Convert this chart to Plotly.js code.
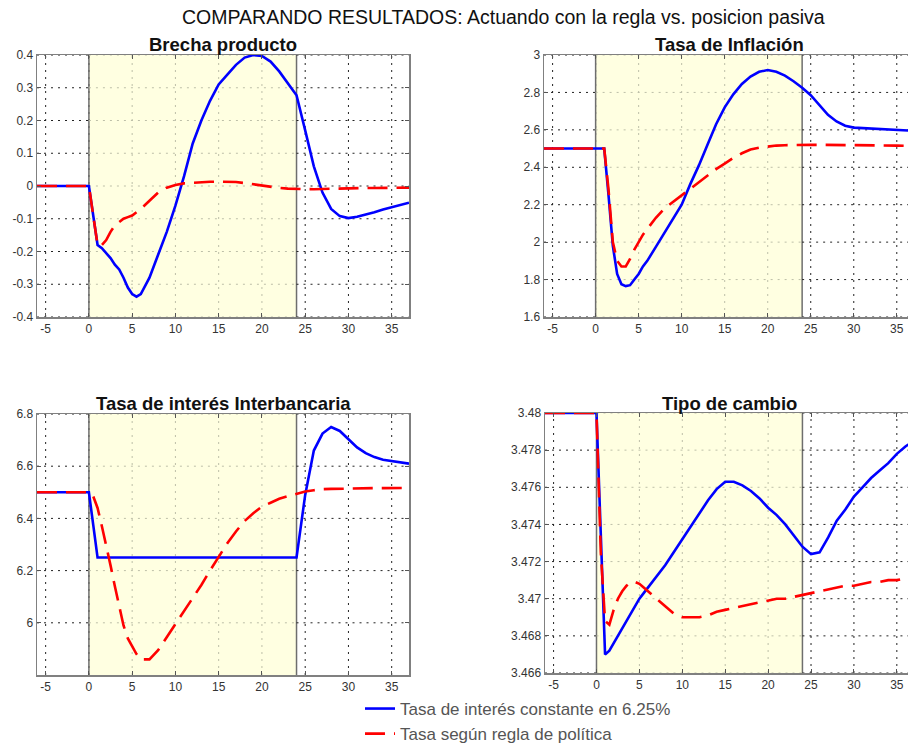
<!DOCTYPE html>
<html><head><meta charset="utf-8">
<script src="https://cdn.plot.ly/plotly-3.0.1.min.js"></script>
<style>html,body{margin:0;padding:0;overflow:hidden;background:#fff}#chart{width:916px;height:749px}</style>
</head><body><div id="chart"></div>
<script>
// Periodos (trimestres)
const periodos = [-6,-5,-4,-3,-2,-1,0,0.5,1,1.5,2,2.5,3,3.5,4,4.5,5,5.5,6,7,8,9,10,11,12,13,14,15,16,17,18,19,20,21,22,23,24,25,26,27,28,29,30,31,32,33,34,35,36,37];

// Brecha producto
const brechaConstante = [0,0,0,0,0,0,0,
  -0.09,-0.18,-0.19,-0.205,-0.22,-0.24,-0.255,-0.28,-0.31,-0.33,-0.338,-0.33,
  -0.28,-0.21,-0.14,-0.06,0.03,0.13,0.2,0.26,0.31,0.34,0.37,0.392,0.4,0.397,0.38,0.35,0.315,0.277,0.17,0.06,-0.02,-0.07,-0.092,-0.098,-0.094,-0.088,-0.08,-0.072,-0.065,-0.058,-0.051];
const brechaRegla = [0,0,0,0,0,0,0,
  -0.09,-0.18,-0.18,-0.165,-0.14,-0.12,-0.11,-0.1,-0.095,-0.09,-0.08,-0.07,
  -0.045,-0.02,-0.005,0.003,0.008,0.01,0.012,0.013,0.013,0.013,0.012,0.009,0.005,0.002,-0.002,-0.006,-0.008,-0.009,-0.01,-0.01,-0.009,-0.008,-0.008,-0.007,-0.007,-0.006,-0.006,-0.006,-0.005,-0.005,-0.005];

// Tasa de inflación
const inflacionConstante = [2.5,2.5,2.5,2.5,2.5,2.5,2.5,
  2.5,2.5,2.25,1.98,1.83,1.775,1.765,1.77,1.8,1.83,1.87,1.9,
  1.975,2.05,2.12,2.2,2.31,2.41,2.52,2.63,2.72,2.79,2.845,2.885,2.91,2.92,2.91,2.89,2.86,2.825,2.785,2.735,2.68,2.645,2.622,2.612,2.61,2.608,2.605,2.603,2.6,2.597,2.595];
const inflacionRegla = [2.5,2.5,2.5,2.5,2.5,2.5,2.5,
  2.5,2.5,2.28,2.0,1.9,1.87,1.87,1.91,1.96,2.0,2.04,2.07,
  2.13,2.18,2.215,2.245,2.28,2.32,2.355,2.39,2.42,2.45,2.475,2.495,2.505,2.512,2.516,2.518,2.52,2.52,2.52,2.52,2.52,2.519,2.519,2.518,2.518,2.517,2.517,2.516,2.516,2.515,2.515];

// Tasa de interés interbancaria
const interesConstante = [6.5,6.5,6.5,6.5,6.5,6.5,6.5,
  6.375,6.25,6.25,6.25,6.25,6.25,6.25,6.25,6.25,6.25,6.25,6.25,
  6.25,6.25,6.25,6.25,6.25,6.25,6.25,6.25,6.25,6.25,6.25,6.25,6.25,6.25,6.25,6.25,6.25,6.25,
  6.49,6.66,6.725,6.75,6.735,6.705,6.672,6.65,6.635,6.625,6.62,6.615,6.61];
const interesRegla = [6.5,6.5,6.5,6.5,6.5,6.5,6.5,
  6.485,6.44,6.37,6.3,6.22,6.14,6.06,5.99,5.94,5.91,5.88,5.86,
  5.86,5.895,5.945,5.99,6.04,6.09,6.145,6.2,6.255,6.305,6.35,6.39,6.42,6.445,6.46,6.475,6.485,6.495,6.503,6.508,6.512,6.513,6.514,6.514,6.515,6.515,6.516,6.516,6.517,6.517,6.517];

// Tipo de cambio
const cambioConstante = [3.48,3.48,3.48,3.48,3.48,3.48,3.48,
  3.4735,3.467,3.4672,3.4676,3.468,3.4684,3.4688,3.4692,3.4696,3.47,3.4703,3.4706,
  3.4712,3.4718,3.4725,3.4732,3.4739,3.4746,3.4753,3.4759,3.4763,3.4763,3.4761,3.4758,3.4754,3.4749,3.4745,3.474,3.4734,3.4728,3.4724,3.4725,3.4733,3.4742,3.4748,3.4755,3.476,3.4765,3.4769,3.4773,3.4778,3.4782,3.4785];
const cambioRegla = [3.48,3.48,3.48,3.48,3.48,3.48,3.48,
  3.4725,3.4688,3.4686,3.4694,3.47,3.4704,3.4707,3.4709,3.4709,3.4708,3.4706,3.4704,
  3.47,3.4696,3.4692,3.469,3.469,3.469,3.4691,3.4693,3.4694,3.4695,3.4696,3.4697,3.4698,3.4699,3.47,3.47,3.4701,3.4702,3.4703,3.4704,3.4705,3.4706,3.4707,3.4707,3.4708,3.4709,3.4709,3.471,3.471,3.4711,3.4711];

// Ticks
const ticksX = [-5,0,5,10,15,20,25,30,35];
const etiquetasX = ['-5','0','5','10','15','20','25','30','35'];
const ticksBrecha = [-0.4,-0.3,-0.2,-0.1,0,0.1,0.2,0.3,0.4];
const etiquetasBrecha = ['-0.4','-0.3','-0.2','-0.1','0','0.1','0.2','0.3','0.4'];
const ticksInflacion = [1.6,1.8,2,2.2,2.4,2.6,2.8,3];
const etiquetasInflacion = ['1.6','1.8','2','2.2','2.4','2.6','2.8','3'];
const ticksInteres = [6,6.2,6.4,6.6,6.8];
const etiquetasInteres = ['6','6.2','6.4','6.6','6.8'];
const ticksCambio = [3.466,3.468,3.47,3.472,3.474,3.476,3.478,3.48];
const etiquetasCambio = ['3.466','3.468','3.47','3.472','3.474','3.476','3.478','3.48'];

const nombreConstante = 'Tasa de interés constante en 6.25%';
const nombreRegla = 'Tasa según regla de política';
const titulos = ['Brecha producto','Tasa de Inflación','Tasa de interés Interbancaria','Tipo de cambio'];
const tituloGeneral = 'COMPARANDO RESULTADOS: Actuando con la regla vs. posicion pasiva';
const inicioRegla = 0, finRegla = 24;

const FONT = 'Liberation Sans, Arial, sans-serif';
const W = 916, H = 749;
const px = v => v / W, py = v => 1 - v / H;
const XMIN = -6, XMAX = 37;

const series = [
  [brechaConstante, brechaRegla],
  [inflacionConstante, inflacionRegla],
  [interesConstante, interesRegla],
  [cambioConstante, cambioRegla]
];
const yTicks = [ticksBrecha, ticksInflacion, ticksInteres, ticksCambio];
const traces = [];
series.forEach((par, i) => {
  const s = i === 0 ? '' : String(i + 1);
  traces.push({x: periodos, y: par[0], xaxis: 'x' + s, yaxis: 'y' + s, type: 'scatter', mode: 'lines',
    name: nombreConstante, showlegend: i === 0, legendrank: 1,
    line: {color: '#0000ff', width: 2.6}});
  traces.push({x: periodos, y: par[1], xaxis: 'x' + s, yaxis: 'y' + s, type: 'scatter', mode: 'lines',
    name: nombreRegla, showlegend: i === 0, legendrank: 2,
    line: {color: '#ff0000', width: 2.6, dash: '20px,9px'}});
});

function ejeX(dom, anchor) {
  return {domain: dom, anchor: anchor, range: [XMIN, XMAX], tickvals: ticksX, ticktext: etiquetasX,
    showgrid: false, zeroline: false,
    showline: true, linecolor: '#808080', linewidth: 1.5, mirror: 'ticks', ticks: 'inside', ticklen: 4,
    tickcolor: '#555', tickfont: {family: FONT, size: 12, color: '#333'}, fixedrange: true};
}
function ejeY(dom, anchor, rango, tv, tt) {
  return {domain: dom, anchor: anchor, range: rango, tickvals: tv, ticktext: tt,
    showgrid: false, zeroline: false,
    showline: true, linecolor: '#808080', linewidth: 1.5, mirror: 'ticks', ticks: 'inside', ticklen: 4,
    tickcolor: '#555', tickfont: {family: FONT, size: 12, color: '#333'}, fixedrange: true};
}

const dx1 = [px(37), px(409)], dx2 = [px(544), px(914)], dx4 = [px(545), px(914)];
const dyTop = [py(317), py(55)], dy3 = [py(675), py(414)], dy4 = [py(673), py(413)];

const OSCURO = '#222222', CLARO = '#bdbfa8', DASHG = '2px,5px';
const shapes = [];
['x', 'x2', 'x3', 'x4'].forEach((xr, i) => {
  const yr = i === 0 ? 'y' : 'y' + (i + 1);
  // sombreado del periodo de la regla
  shapes.push({type: 'rect', xref: xr, yref: yr + ' domain', x0: inicioRegla, x1: finRegla, y0: 0, y1: 1,
    fillcolor: '#ffffe1', line: {width: 0}, layer: 'below'});
  // rejilla punteada vertical
  ticksX.forEach(v => {
    const dentro = v > inicioRegla && v < finRegla;
    shapes.push({type: 'line', xref: xr, yref: yr + ' domain', x0: v, x1: v, y0: 0, y1: 1,
      line: {color: dentro ? CLARO : OSCURO, width: 1, dash: DASHG}, layer: 'below'});
  });
  // rejilla punteada horizontal
  yTicks[i].forEach(v => {
    [[XMIN, inicioRegla, OSCURO], [inicioRegla, finRegla, CLARO], [finRegla, XMAX, OSCURO]].forEach(seg => {
      shapes.push({type: 'line', xref: xr, yref: yr, x0: seg[0], x1: seg[1], y0: v, y1: v,
        line: {color: seg[2], width: 1, dash: DASHG}, layer: 'below'});
    });
  });
  // bordes del sombreado
  [inicioRegla, finRegla].forEach(v => shapes.push({type: 'line', xref: xr, yref: yr + ' domain',
    x0: v, x1: v, y0: 0, y1: 1, line: {color: '#6e6e6e', width: 1.5}, layer: 'below'}));
});

const centros = [(37 + 409) / 2, (544 + 914) / 2, (37 + 409) / 2, (545 + 914) / 2];
const alturas = [44, 44, 403, 403];
const annotations = titulos.map((t, i) => ({text: '<b>' + t + '</b>', xref: 'paper', yref: 'paper',
  x: px(centros[i]), y: py(alturas[i]), xanchor: 'center', yanchor: 'middle', showarrow: false,
  font: {family: FONT, size: 18.5, color: '#111'}}));
annotations.push({text: tituloGeneral, xref: 'paper', yref: 'paper', x: px(503), y: py(17),
  xanchor: 'center', yanchor: 'middle', showarrow: false, font: {family: FONT, size: 19.5, color: '#111'}});

const layout = {
  width: W, height: H, margin: {l: 0, r: 0, t: 0, b: 0, autoexpand: false},
  paper_bgcolor: '#fff', plot_bgcolor: '#fff',
  showlegend: true,
  legend: {x: px(360), y: py(691), xanchor: 'left', yanchor: 'top', bgcolor: 'rgba(0,0,0,0)',
    font: {family: FONT, size: 17, color: '#555'}, itemwidth: 30, tracegroupgap: 0},
  xaxis: ejeX(dx1, 'y'), yaxis: ejeY(dyTop, 'x', [-0.4, 0.4], ticksBrecha, etiquetasBrecha),
  xaxis2: ejeX(dx2, 'y2'), yaxis2: ejeY(dyTop, 'x2', [1.6, 3], ticksInflacion, etiquetasInflacion),
  xaxis3: ejeX(dx1, 'y3'), yaxis3: ejeY(dy3, 'x3', [5.8, 6.8], ticksInteres, etiquetasInteres),
  xaxis4: ejeX(dx4, 'y4'), yaxis4: ejeY(dy4, 'x4', [3.466, 3.48], ticksCambio, etiquetasCambio),
  shapes: shapes, annotations: annotations
};
Plotly.newPlot('chart', traces, layout, {displayModeBar: false, staticPlot: true});
</script></body></html>
